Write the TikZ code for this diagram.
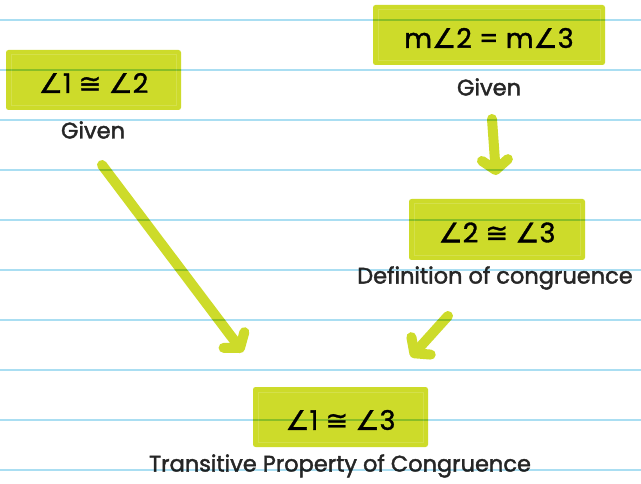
\documentclass[tikz,border=0pt]{standalone}
\usepackage{fontspec}
\setmainfont{Poppins}
\newfontfamily\boldish[FakeBold=1.2]{Poppins}
\newfontfamily\lblfont[FakeBold=1.8]{Poppins}
\newfontfamily\symf[FakeBold=1.2]{DejaVu Sans}
\usetikzlibrary{arrows.meta}
\definecolor{lime}{RGB}{205,219,42}
\definecolor{rulecol}{RGB}{170,222,242}
\definecolor{innercol}{RGB}{212,224,75}
\newcommand{\ang}{{\symf ∠}}
\newcommand{\cg}{{\symf ≅}}
\tikzset{
  box/.style={fill=lime, rounded corners=2.5pt, inner sep=0pt, text=black,
    font=\boldish\fontsize{27}{30}\selectfont},
  boxtext/.style={inner sep=0pt, text=black, font=\boldish\fontsize{27}{30}\selectfont},
  lbl/.style={inner sep=0pt, text=black!85, font=\lblfont\fontsize{22.5}{26}\selectfont},
  arr/.style={draw=lime, line width=10pt, line cap=round,
    -{Straight Barb[length=10pt, width=26pt, line cap=round, line join=round]}},
  innerline/.style={draw=innercol, line width=0.6pt},
  ruleline/.style={draw=rulecol, line width=2.2pt}
}
\begin{document}
\begin{tikzpicture}[x=1pt,y=-1pt]
\useasboundingbox (0,0) rectangle (641,484);
\fill[white] (0,0) rectangle (641,484);
% boxes
\node[box, minimum width=175pt, minimum height=60pt] (b1) at (93.5,80) {};
\node[box, minimum width=232pt, minimum height=60pt] (b2) at (489,35) {};
\node[box, minimum width=176pt, minimum height=61pt] (b3) at (497,229.5) {};
\node[box, minimum width=175pt, minimum height=60pt] (b4) at (340.5,417) {};
\foreach \b in {b1,b2,b3,b4}{
  \draw[innerline] ([shift={(5,5)}]\b.north west) rectangle ([shift={(-5,-5)}]\b.south east);
}
\node[boxtext] (t1) at ([yshift=-3pt]b1.center) {\ang1 \cg{} \ang2};
\node[boxtext] (t2) at ([yshift=-3pt]b2.center) {m\ang2 = m\ang3};
\node[boxtext] (t3) at ([yshift=-3pt]b3.center) {\ang2 \cg{} \ang3};
\node[boxtext] (t4) at ([yshift=-3pt]b4.center) {\ang1 \cg{} \ang3};
% labels
\node[lbl] (l1) at (93,130) {Given};
\node[lbl] (l2) at (489,87) {Given};
\node[lbl] (l3) at (495,278) {Definition of congruence};
\node[lbl] (l4) at (340,466) {Transitive Property of Congruence};
% arrows
\coordinate (a1s) at (102,165);
\coordinate (a1e) at (243,352);
\coordinate (a2s) at (492,119);
\coordinate (a2e) at (496,175);
\coordinate (a3s) at (448,316);
\coordinate (a3e) at (411,357);
\draw[arr] (a1s) -- (a1e);
\draw[arr] (a2s) -- (a2e);
\draw[arr] (a3s) -- (a3e);
% ruled lines
\begin{scope}[blend mode=multiply]
\foreach \k in {0,...,9}{
  \coordinate (rl\k) at (0,20+50*\k);
  \coordinate (rr\k) at (641,20+50*\k);
  \draw[ruleline] (rl\k) -- (rr\k);
}
\end{scope}
\end{tikzpicture}
\end{document}
